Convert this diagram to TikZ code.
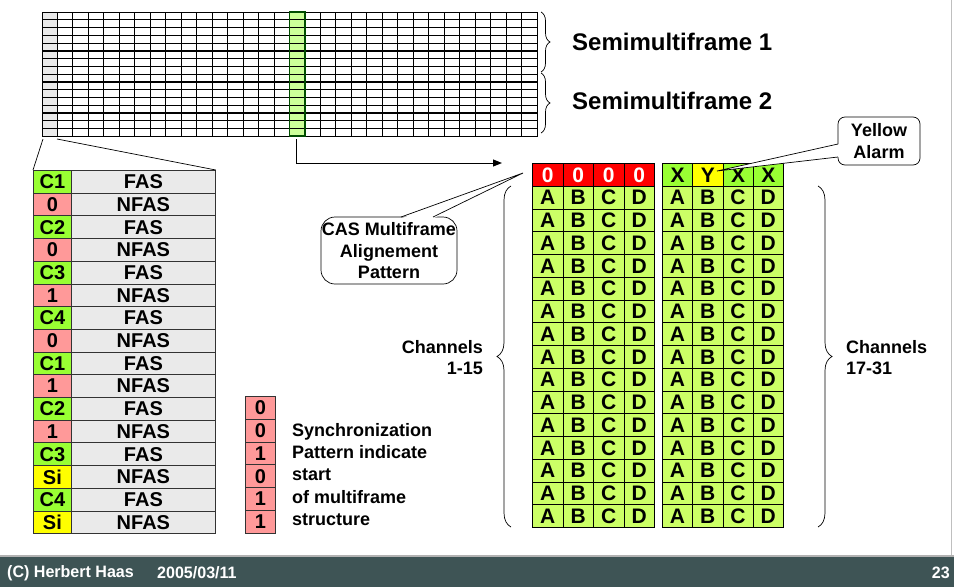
\documentclass[tikz,border=0pt]{standalone}
\usepackage{fontspec}
\setmainfont{Liberation Sans}
\usetikzlibrary{decorations.pathreplacing,arrows.meta}
\definecolor{cg}{RGB}{153,255,51}
\definecolor{cl}{RGB}{204,255,102}
\definecolor{cp}{RGB}{255,153,153}
\definecolor{cy}{RGB}{255,255,0}
\definecolor{cr}{RGB}{255,0,0}
\definecolor{cgray}{RGB}{234,234,234}
\definecolor{tsgreen}{RGB}{204,255,153}
\definecolor{foot}{RGB}{62,84,85}
\newcommand{\fs}[2]{\fontsize{#1}{#2}\selectfont\bfseries}
\begin{document}
\begin{tikzpicture}[x=1pt,y=-1pt,
  tcell/.style={draw=black!80,line width=0.8pt,anchor=north west,inner sep=0pt,
    minimum width=#1,minimum height=22.7pt,font=\fs{20}{20}},
  gcell/.style={draw=black,line width=0.8pt,anchor=north west,inner sep=0pt,
    minimum width=30.5pt,minimum height=22.75pt,font=\fs{21}{21}},
  bracelr/.style={decorate,decoration={brace,amplitude=#1},line width=0.7pt},
  callout/.style={draw=black,line width=0.7pt,fill=white}]
\useasboundingbox (0,0) rectangle (954,587);
% ---------- top grid ----------
\fill[cgray] (42,12) rectangle (57.47,136);
\fill[tsgreen] (289.5,12) rectangle (305,136);
\foreach \i in {0,...,32} \draw[line width=0.9pt] (42+15.469*\i,12) -- (42+15.469*\i,136);
\foreach \j in {0,...,16} \draw[line width=0.9pt] (42,12+7.75*\j) -- (537,12+7.75*\j);
\foreach \j in {5,9,13} \draw[line width=1.6pt] (42,12+7.75*\j) -- (537,12+7.75*\j);
\draw[line width=1pt] (42,12) rectangle (537,136);
\draw[line width=1.2pt,draw=black!70!green] (289.5,12) rectangle (305,136);
\coordinate (gl) at (43,139);
\coordinate (gr) at (57,139);
\coordinate (ts) at (296,139);
\coordinate (arrEnd) at (502,163);
% braces semimultiframe
\draw[bracelr=9pt] (541,12) -- (541,72);
\draw[bracelr=9pt] (541,73) -- (541,133);
\node[anchor=west,font=\fs{24}{24},inner sep=0pt] (smf1) at (572,42) {Semimultiframe 1};
\node[anchor=west,font=\fs{24}{24},inner sep=0pt] (smf2) at (572,101) {Semimultiframe 2};
% ---------- left table ----------
\foreach \t/\c/\f [count=\i from 0] in {C1/cg/FAS,0/cp/NFAS,C2/cg/FAS,0/cp/NFAS,C3/cg/FAS,1/cp/NFAS,C4/cg/FAS,0/cp/NFAS,C1/cg/FAS,1/cp/NFAS,C2/cg/FAS,1/cp/NFAS,C3/cg/FAS,Si/cy/NFAS,C4/cg/FAS,Si/cy/NFAS}{
  \node[tcell=38pt,fill=\c] (s\i) at (33,170+22.7*\i) {\t};
  \node[tcell=144pt,fill=cgray] (f\i) at (71,170+22.7*\i) {\f};
}
\draw[line width=0.7pt] (gl) -- (s0.north west);
\draw[line width=0.7pt] (gr) -- (f0.north east);
% ---------- sync column ----------
\foreach \t [count=\i from 0] in {0,0,1,0,1,1}
  \node[tcell=30pt,minimum height=22.8pt,fill=cp] (p\i) at (245,396+22.8*\i) {\t};
\node[anchor=west,align=left,font=\fs{18}{22.3},inner sep=0pt] (synctext) at (292,474.5)
  {Synchronization\\Pattern indicate\\start\\of multiframe\\structure};
% ---------- arrow ----------
\draw[line width=1pt,-{Triangle[length=9pt,width=7pt]}] (ts) |- (arrEnd);
% ---------- right grid ----------
\foreach \j in {0,...,3}{
  \node[gcell,fill=cr,text=white] (h\j) at (532+30.5*\j,163) {0};
}
\foreach \t/\c [count=\j from 0] in {X/cg,Y/cy,X/cg,X/cg}{
  \node[gcell,fill=\c,minimum width=30.25pt] (k\j) at (662+30.25*\j,163) {\t};
}
\foreach \r in {1,...,15}{
  \foreach \t [count=\j from 0] in {A,B,C,D}{
    \node[gcell,fill=cl] (a\r\t) at (532+30.5*\j,163+22.75*\r) {\t};
    \node[gcell,fill=cl,minimum width=30.25pt] (b\r\t) at (662+30.25*\j,163+22.75*\r) {\t};
  }
}
% channel braces
\draw[bracelr=14pt] (511,527) -- (511,186);
\draw[bracelr=14pt] (818,186) -- (818,527);
\node[anchor=east,align=right,font=\fs{18}{21},inner sep=0pt] (ch1) at (483,358)
  {Channels\\1-15};
\node[anchor=west,align=left,font=\fs{18}{21},inner sep=0pt] (ch2) at (846,358)
  {Channels\\17-31};
% ---------- callouts ----------
\coordinate (casTip) at (523,173);
\draw[callout,rounded corners=14pt] (321,217) rectangle (457,284);
\fill[white] (401,218.5) -- (casTip) -- (433,218.5) -- cycle;
\draw[line width=0.7pt] (401,217) -- (casTip) -- (433,217);
\node[align=center,font=\fs{18}{21.5},inner sep=0pt] (cas) at (389,251)
  {CAS Multiframe\\Alignement\\Pattern};
\coordinate (yTip) at (717,171);
\draw[callout,rounded corners=7pt] (838,117) rectangle (920,165);
\fill[white] (839.5,144) -- (yTip) -- (839.5,157) -- cycle;
\draw[line width=0.7pt] (838,144) -- (yTip) -- (838,157);
\node[align=center,font=\fs{18}{22},inner sep=0pt] (ya) at (879,141)
  {Yellow\\Alarm};
% ---------- footer ----------
\draw[black!25,line width=1pt] (951,0) -- (951,556);
\fill[black!30] (0,554.5) rectangle (954,557);
\fill[foot] (0,557) rectangle (954,587);
\node[anchor=west,text=white,font=\fs{15}{15},inner sep=0pt] (fa) at (7,573) {\scalebox{1.07}[1.1]{(C) Herbert Haas}};
\node[anchor=west,text=white,font=\fs{15}{15},inner sep=0pt] (fd) at (157,573) {\scalebox{1.07}[1.1]{2005/03/11}};
\node[anchor=east,text=white,font=\fs{15}{15},inner sep=0pt] (fp) at (950,573) {\scalebox{1.07}[1.1]{23}};
\end{tikzpicture}
\end{document}
